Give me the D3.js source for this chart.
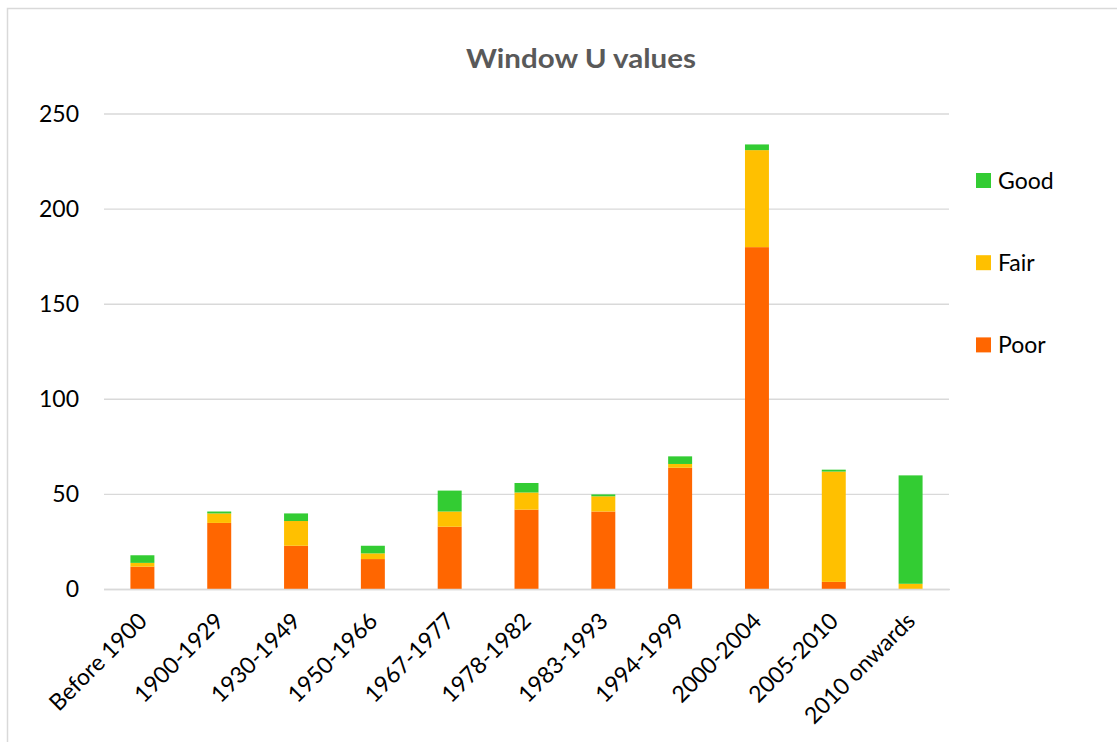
<!DOCTYPE html>
<html>
<head>
<meta charset="utf-8">
<script src="https://cdn.jsdelivr.net/npm/d3@7"></script>
<style>
  html, body { margin: 0; padding: 0; background: #fff; }
  svg { display: block; }
  text { font-family: Lato, "Open Sans", sans-serif; }
</style>
</head>
<body>
<svg id="chart" width="1117" height="742"></svg>
<script>
// Construction periods
const periods = ["Before 1900", "1900-1929", "1930-1949", "1950-1966", "1967-1977",
  "1978-1982", "1983-1993", "1994-1999", "2000-2004", "2005-2010", "2010 onwards"];

// Window counts per condition rating
const poor = [12, 35, 23, 16, 33, 42, 41, 64, 180, 4, 0];
const fair = [2, 5, 13, 3, 8, 9, 8, 2, 51, 58, 3];
const good = [4, 1, 4, 4, 11, 5, 1, 4, 3, 1, 57];

const seriesNames = ["Poor", "Fair", "Good"];
const seriesColors = ["#FF6600", "#FFC000", "#33CC33"];
const yTicks = [0, 50, 100, 150, 200, 250];
const titleText = "Window U values";

const rows = periods.map((p, i) => ({ period: p, Poor: poor[i], Fair: fair[i], Good: good[i] }));
const stacked = d3.stack().keys(seriesNames)(rows);

const svg = d3.select("#chart");

// chart frame
svg.append("rect")
  .attr("x", 7.5).attr("y", 8.5)
  .attr("width", 1130).attr("height", 760)
  .attr("fill", "#fff").attr("stroke", "#d9d9d9").attr("stroke-width", 1.5);

const plot = { left: 104, right: 949, top: 114, bottom: 589.5 };

const x = d3.scaleBand()
  .domain(periods)
  .range([plot.left, plot.right])
  .paddingInner(0.688)
  .paddingOuter(0.344);

const y = d3.scaleLinear().domain([0, 250]).range([plot.bottom, plot.top]);
const color = d3.scaleOrdinal().domain(seriesNames).range(seriesColors);

// horizontal gridlines
svg.append("g")
  .selectAll("line")
  .data(yTicks)
  .join("line")
  .attr("x1", plot.left).attr("x2", plot.right)
  .attr("y1", d => y(d)).attr("y2", d => y(d))
  .attr("stroke", "#d9d9d9").attr("stroke-width", 1.4);

// y-axis labels
const yAxis = d3.axisLeft(y).tickValues(yTicks).tickSize(0).tickPadding(0);
const gy = svg.append("g").attr("transform", "translate(79,0)").call(yAxis);
gy.select(".domain").remove();
gy.selectAll("text")
  .attr("font-size", 23)
  .attr("font-family", "Lato, sans-serif")
  .attr("fill", "#000");

// stacked bars
svg.append("g")
  .selectAll("g")
  .data(stacked)
  .join("g")
  .attr("fill", d => color(d.key))
  .selectAll("rect")
  .data(d => d)
  .join("rect")
  .attr("x", d => x(d.data.period))
  .attr("width", x.bandwidth())
  .attr("y", d => y(d[1]))
  .attr("height", d => y(d[0]) - y(d[1]));

// x-axis labels, rotated
const xAxis = d3.axisBottom(x).tickSize(0).tickPadding(0);
const gx = svg.append("g").attr("transform", `translate(0,${plot.bottom})`).call(xAxis);
gx.select(".domain").remove();
gx.selectAll("text")
  .attr("font-size", 23)
  .attr("font-family", "Lato, sans-serif")
  .attr("fill", "#000")
  .attr("text-anchor", "end")
  .attr("dy", null)
  .attr("y", 0)
  .attr("transform", "translate(6,33) rotate(-45)");

// baseline
svg.append("line")
  .attr("x1", plot.left).attr("x2", plot.right + 1)
  .attr("y1", y(0)).attr("y2", y(0))
  .attr("stroke", "#d9d9d9").attr("stroke-width", 1.6);

// title
svg.append("text")
  .attr("x", 581).attr("y", 68)
  .attr("text-anchor", "middle")
  .attr("font-size", 27)
  .attr("font-weight", "bold")
  .attr("fill", "#595959")
  .attr("textLength", 230)
  .attr("lengthAdjust", "spacingAndGlyphs")
  .text(titleText);

// legend, top-down: Good, Fair, Poor
const legendKeys = seriesNames.slice().reverse();
const legend = svg.append("g")
  .selectAll("g")
  .data(legendKeys)
  .join("g")
  .attr("transform", (d, i) => `translate(976,${180.5 + i * 82.2})`);
legend.append("rect")
  .attr("x", 0).attr("y", -7.5)
  .attr("width", 15).attr("height", 15)
  .attr("fill", d => color(d));
legend.append("text")
  .attr("x", 22).attr("y", 8)
  .attr("font-size", 23)
  .attr("fill", "#000")
  .text(d => d);
</script>
</body>
</html>
